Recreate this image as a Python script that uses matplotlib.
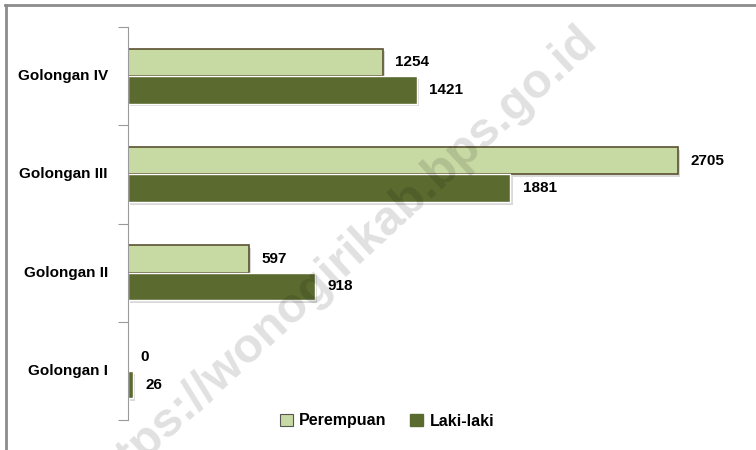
import matplotlib
matplotlib.use("Agg")
import matplotlib.pyplot as plt
import matplotlib.patheffects as pe
from matplotlib.patches import Patch
import numpy as np

categories = ["Golongan I", "Golongan II", "Golongan III", "Golongan IV"]
perempuan = [0, 597, 2705, 1254]
laki = [26, 918, 1881, 1421]

FONT = ["Liberation Sans", "DejaVu Sans"]
plt.rcParams['font.family'] = FONT

light = "#C8DAA4"
dark = "#5B6B30"
edge = "#5A5230"

fig = plt.figure(figsize=(7.56, 4.5), dpi=100)
fig.patch.set_facecolor("white")

# frame lines (top, left)
fig.add_artist(plt.Line2D([5.5/756, 5.5/756], [0, 1 - 5/450], transform=fig.transFigure, color='#8c8c8c', lw=2))
fig.add_artist(plt.Line2D([5/756, 1], [1 - 4.5/450, 1 - 4.5/450], transform=fig.transFigure, color='#8c8c8c', lw=2))

ax = fig.add_axes([128/756, 30/450, 612/756, 393/450])
ax.patch.set_alpha(0)
y = np.arange(len(categories))
h = 0.28
shadow = [pe.SimplePatchShadow(offset=(1.5, -2), alpha=0.22, shadow_rgbFace='#555555'), pe.Normal()]
b1 = ax.barh(y + h / 2, perempuan, height=h, color=light, edgecolor=edge, linewidth=1.2, label="Perempuan")
b2 = ax.barh(y - h / 2, laki, height=h, color=dark, edgecolor="white", linewidth=1.0, label="Laki-laki")
for b in list(b1) + list(b2):
    b.set_path_effects(shadow)

ax.set_xlim(0, 3010)
ax.set_ylim(-0.5, 3.5)
for v, yy in zip(perempuan, y + h / 2):
    ax.annotate(str(v), (v, yy), xytext=(9, 0), textcoords='offset points', va='center', ha='left',
                fontsize=11, fontweight='bold', color='black')
for v, yy in zip(laki, y - h / 2):
    ax.annotate(str(v), (v, yy), xytext=(9, 0), textcoords='offset points', va='center', ha='left',
                fontsize=11, fontweight='bold', color='black')

for s in ['top', 'right', 'bottom']:
    ax.spines[s].set_visible(False)
ax.spines['left'].set_color('#9a9a9a')
ax.set_xticks([])
ax.set_yticks(np.arange(-0.5, 3.6, 1.0), minor=False)
ax.set_yticklabels([])
ax.tick_params(axis='y', length=7, color='#9a9a9a', direction='out')
for i, c in enumerate(categories):
    ax.text(-20 / 0.2033, i, c, ha='right', va='center', fontsize=11, fontweight='bold', color='black')

handles = [Patch(facecolor=light, edgecolor='#555555', linewidth=0.8), Patch(facecolor=dark, edgecolor=dark)]
fig.legend(handles, ["Perempuan", "Laki-laki"], loc='center', bbox_to_anchor=(387/756, 1 - 421/450),
           ncol=2, frameon=False, prop={'weight': 'bold', 'size': 11.5, 'family': FONT},
           handlelength=0.8, handleheight=0.8, handletextpad=0.4, columnspacing=1.5)

# watermark (semi-transparent overlay on top)
fig.text(340/756, 1 - 262/450, "https://wonogirikab.bps.go.id", rotation=42.5, rotation_mode='anchor',
         ha='center', va='center', fontsize=35, fontweight='bold', color='black', alpha=0.12, zorder=10)

fig.savefig("out.png", dpi=100, facecolor='white')
